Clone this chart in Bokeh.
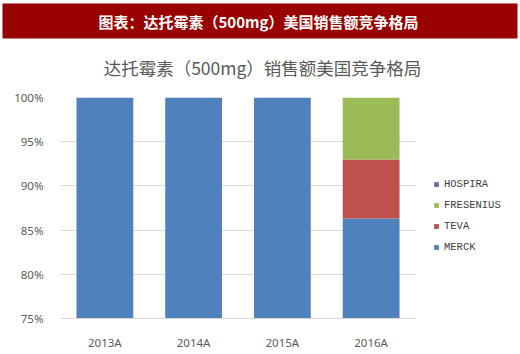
from bokeh.plotting import figure
from bokeh.models import (FactorRange, Range1d, NumeralTickFormatter, FixedTicker,
                          Legend, LegendItem, Label, BoxAnnotation)
from bokeh.embed import file_html
from bokeh.resources import INLINE

years = ["2013A", "2014A", "2015A", "2016A"]
series = ["MERCK", "TEVA", "FRESENIUS", "HOSPIRA"]
merck = [1.0, 1.0, 1.0, 0.863]
teva = [0.0, 0.0, 0.0, 0.067]
fresenius = [0.0, 0.0, 0.0, 0.070]
hospira = [0.0, 0.0, 0.0, 0.0]
y_ticks = [0.75, 0.80, 0.85, 0.90, 0.95, 1.00]
colors = ["#4F81BD", "#C0504D", "#9BBB59", "#8064A2"]
header_text = "图表：达托霉素（500mg）美国销售额竞争格局"
chart_title = "达托霉素（500mg）销售额美国竞争格局"

data = {"year": years, "MERCK": merck, "TEVA": teva, "FRESENIUS": fresenius, "HOSPIRA": hospira}

# ---- header strip (title band + chart title) ----
h = figure(width=520, height=89, x_range=Range1d(0, 520), y_range=Range1d(89, 0),
           output_backend="svg", toolbar_location=None,
           x_axis_location=None, y_axis_location=None,
           min_border_left=0, min_border_right=0,
           min_border_top=0, min_border_bottom=0)
h.outline_line_color = None
h.grid.visible = False
h.background_fill_color = "white"
h.border_fill_color = "white"
h.add_layout(BoxAnnotation(left=2, right=517, top=3, bottom=38,
                           fill_color="#990000", fill_alpha=1, line_color=None))
h.add_layout(Label(x=258, y=21, text=header_text,
                   text_align="center", text_baseline="middle", text_color="white",
                   text_font="Noto Sans CJK SC", text_font_style="bold", text_font_size="15px"))
h.add_layout(Label(x=262, y=67, text=chart_title,
                   text_align="center", text_baseline="middle", text_color="#595959",
                   text_font="Noto Sans CJK SC", text_font_size="17.5px"))

# ---- main chart ----
p = figure(frame_width=355, frame_height=221, x_range=FactorRange(*years, range_padding=0),
           y_range=Range1d(0.75, 1.0), output_backend="svg", toolbar_location=None,
           min_border_left=60, min_border_right=105, min_border_top=8, min_border_bottom=36)
p.outline_line_color = None
p.background_fill_color = "white"
p.border_fill_color = "white"

rs = p.vbar_stack(series, x="year", width=0.64, color=colors, line_color=None, source=data)

p.yaxis.ticker = FixedTicker(ticks=y_ticks)
p.yaxis.formatter = NumeralTickFormatter(format="0%")
p.yaxis.axis_line_color = None
p.yaxis.major_tick_line_color = None
p.yaxis.minor_tick_line_color = None
p.yaxis.major_label_standoff = 11
p.xaxis.axis_line_color = "#D9D9D9"
p.xaxis.major_tick_line_color = None
p.xaxis.minor_tick_line_color = None
p.xaxis.major_label_standoff = 10
for ax in (p.xaxis, p.yaxis):
    ax.major_label_text_font = "Noto Sans"
    ax.major_label_text_font_size = "11.5px"
    ax.major_label_text_color = "#595959"
p.xgrid.grid_line_color = None
p.ygrid.grid_line_color = "#D9D9D9"
p.ygrid.level = "underlay"

legend = Legend(items=[LegendItem(label=s, renderers=[r]) for s, r in zip(series[::-1], rs[::-1])],
                location=(18, 64), glyph_width=6, glyph_height=6, label_height=14,
                spacing=7, label_standoff=5, padding=0, margin=0,
                border_line_color=None, background_fill_alpha=0,
                label_text_font="Liberation Mono", label_text_font_size="10.5px",
                label_text_color="#404040")
p.add_layout(legend, "right")

open("out.html", "w").write(file_html([h, p], INLINE))
